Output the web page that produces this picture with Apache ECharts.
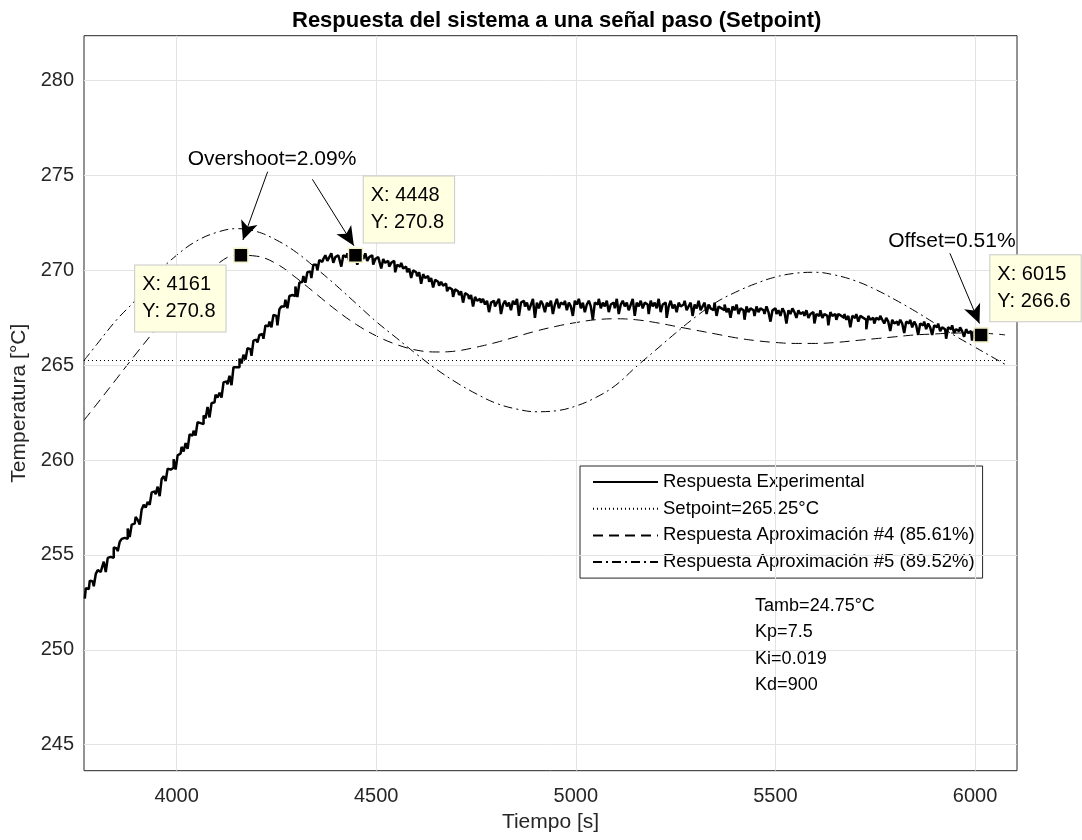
<!DOCTYPE html>
<html>
<head>
<meta charset="utf-8">
<script src="https://cdn.jsdelivr.net/npm/echarts@6/dist/echarts.min.js"></script>
<style>
  html, body { margin: 0; padding: 0; background: #ffffff; }
  #chart { width: 1082px; height: 840px; }
</style>
</head>
<body>
<div id="chart"></div>
<script>
const FONT = '"Liberation Sans", Arial, Helvetica, sans-serif';

// Experimental response: first sample time and sampling period [s]
const expStart = 3770;
const expStep = 5;
// Measured temperature [°C], one value per sample (20 samples per row = 100 s)
const expTemp = [
  252.7, 253.25, 253.2, 253.65, 253.6, 253.35, 254.0, 254.2, 254.1, 254.3, 254.65, 254.1, 254.85, 254.9, 254.85, 255.4, 255.35, 255.2, 255.7, 255.85,
  255.9, 255.85, 256.4, 255.95, 256.6, 256.65, 257.0, 256.85, 256.6, 257.4, 257.65, 257.5, 257.8, 257.65, 258.3, 258.35, 258.2, 258.6, 258.1, 259.0,
  259.15, 258.9, 259.55, 259.5, 259.6, 260.05, 259.5, 260.25, 260.35, 260.7, 260.45, 260.9, 260.6, 261.35, 261.3, 261.55, 261.3, 262.0, 261.95, 261.9,
  262.35, 262.2, 262.8, 262.25, 263.0, 263.05, 263.45, 263.3, 263.55, 263.3, 264.1, 264.15, 264.0, 264.45, 263.95, 264.9, 264.9, 264.9, 265.35, 265.1,
  265.55, 265.3, 265.9, 265.85, 265.5, 266.3, 266.35, 266.2, 266.6, 266.65, 266.4, 267.1, 267.05, 267.3, 267.0, 267.65, 267.6, 267.1, 267.95, 268.1,
  268.1, 268.45, 268.0, 268.65, 268.7, 268.65, 269.15, 268.6, 269.35, 269.4, 269.7, 269.35, 269.9, 269.95, 269.6, 270.3, 270.3, 270.0, 270.55, 270.45,
  270.6, 270.8, 270.5, 270.7, 270.9, 270.4, 270.7, 270.8, 270.6, 270.2, 270.8, 270.7, 270.9, 270.5, 270.8, 270.6, 270.9, 270.3, 270.7, 270.8,
  270.6, 270.9, 270.5, 270.7, 270.8, 270.3, 270.6, 270.7, 270.5, 270.1, 270.6, 270.4, 270.5, 270.2, 270.4, 270.5, 269.9, 270.3, 270.2, 270.4,
  270.1, 270.2, 269.9, 270.1, 269.6, 270.0, 269.9, 269.7, 269.9, 269.3, 269.8, 269.6, 269.7, 269.4, 269.6, 269.1, 269.5, 269.4, 269.2, 269.4,
  269.2, 269.3, 268.9, 269.1, 269.0, 268.6, 269.0, 268.9, 268.7, 268.9, 268.3, 268.8, 268.7, 268.5, 268.7, 268.1, 268.6, 268.4, 268.5, 268.3,
  268.5, 268.2, 268.4, 267.8, 268.3, 268.4, 268.1, 268.3, 268.5, 267.7, 268.2, 268.4, 268.1, 268.3, 267.9, 268.4, 268.2, 268.5, 267.6, 268.3,
  268.4, 268.1, 268.3, 267.9, 268.2, 268.5, 267.5, 268.3, 268.0, 268.4, 268.2, 267.8, 268.3, 268.1, 268.4, 267.7, 268.2, 268.5, 268.0, 268.3,
  268.2, 268.4, 267.9, 268.3, 268.1, 267.6, 268.4, 268.2, 268.5, 268.0, 268.3, 267.8, 268.2, 268.4, 268.1, 267.4, 268.3, 268.2, 268.5, 268.0,
  268.3, 268.1, 268.4, 267.8, 268.2, 268.3, 268.0, 268.5, 267.7, 268.2, 268.4, 268.1, 268.3, 267.9, 268.2, 268.5, 267.6, 268.3, 268.1, 268.4,
  268.0, 268.3, 268.2, 267.7, 268.4, 268.1, 268.3, 268.0, 268.5, 267.8, 268.2, 268.3, 267.5, 268.1, 268.4, 268.0, 268.2, 267.8, 268.3, 268.1,
  268.2, 268.4, 267.9, 268.1, 268.3, 267.6, 268.2, 268.0, 268.4, 267.9, 268.1, 268.3, 267.7, 268.2, 268.0, 267.9, 268.3, 267.6, 268.1, 268.0,
  267.9, 268.2, 267.8, 268.0, 267.5, 268.1, 267.9, 268.2, 267.7, 268.0, 267.9, 267.4, 268.1, 267.8, 268.0, 267.9, 267.6, 268.1, 267.8, 268.0,
  267.9, 267.7, 268.1, 267.8, 267.3, 267.9, 268.0, 267.7, 267.9, 267.6, 268.0, 267.8, 267.2, 267.9, 267.7, 268.0, 267.8, 267.5, 267.9, 267.7,
  267.8, 267.6, 267.9, 267.5, 267.7, 267.8, 267.2, 267.7, 267.6, 267.9, 267.5, 267.7, 267.6, 267.1, 267.8, 267.6, 267.7, 267.4, 267.7, 267.6,
  267.5, 267.7, 267.4, 267.6, 267.0, 267.6, 267.5, 267.7, 267.3, 267.6, 267.5, 267.4, 266.9, 267.6, 267.4, 267.5, 267.2, 267.5, 267.4, 267.6,
  267.4, 267.2, 267.5, 267.3, 266.8, 267.4, 267.2, 267.3, 267.1, 267.4, 267.2, 266.7, 267.3, 267.2, 267.4, 267.0, 267.3, 267.1, 266.6, 267.2,
  267.1, 267.3, 266.9, 267.2, 267.0, 266.6, 267.1, 267.0, 267.2, 266.8, 267.0, 266.9, 266.4, 267.0, 266.9, 267.1, 266.7, 266.9, 266.8, 267.0,
  266.8, 266.5, 266.9, 266.7, 266.8, 266.3, 266.8, 266.7, 266.5, 266.7, 266.6
];

// Setpoint level and the time span it is drawn over
const setpoint = 265.25;
const setpointSpan = [3768, 6075];

// Approximation #4 (85.61%): [time, temperature]
const aprox4 = [
  [3768, 262.1], [3800, 262.95], [3850, 264.3], [3900, 265.65], [3950, 266.95],
  [4000, 268.15], [4050, 269.3], [4100, 270.3], [4150, 270.8], [4200, 270.75],
  [4250, 270.35], [4300, 269.6], [4350, 268.75], [4400, 267.9], [4450, 267.15],
  [4500, 266.55], [4550, 266.1], [4600, 265.8], [4650, 265.7], [4700, 265.75],
  [4750, 265.95], [4800, 266.2], [4850, 266.5], [4900, 266.8], [4950, 267.05],
  [5000, 267.25], [5050, 267.4], [5100, 267.45], [5150, 267.4], [5200, 267.25],
  [5250, 267.05], [5300, 266.85], [5350, 266.65], [5400, 266.45], [5450, 266.3],
  [5500, 266.2], [5550, 266.15], [5600, 266.15], [5650, 266.2], [5700, 266.3],
  [5750, 266.4], [5800, 266.5], [5850, 266.6], [5900, 266.65], [5950, 266.7],
  [6000, 266.7], [6050, 266.65], [6075, 266.6]
];

// Approximation #5 (89.52%): [time, temperature]
const aprox5 = [
  [3768, 265.25], [3800, 266.1], [3850, 267.4], [3900, 268.5], [3950, 269.8],
  [4000, 270.8], [4050, 271.55], [4100, 272.0], [4150, 272.2], [4200, 272.05],
  [4250, 271.6], [4300, 270.95], [4350, 270.1], [4400, 269.2], [4450, 268.25],
  [4500, 267.3], [4550, 266.45], [4600, 265.6], [4650, 264.8], [4700, 264.1],
  [4750, 263.5], [4800, 263.0], [4850, 262.7], [4900, 262.55], [4950, 262.6],
  [5000, 262.85], [5050, 263.3], [5100, 263.95], [5150, 264.9], [5200, 265.8],
  [5250, 266.7], [5300, 267.55], [5350, 268.3], [5400, 268.85], [5450, 269.3],
  [5500, 269.65], [5550, 269.85], [5600, 269.9], [5650, 269.75], [5700, 269.45],
  [5750, 269.0], [5800, 268.45], [5850, 267.85], [5900, 267.2], [5950, 266.55],
  [6000, 265.95], [6050, 265.35], [6075, 265.05]
];

// Axis limits and tick values
const xRange = [3768, 6105];
const yRange = [243.63, 282.37];
const xTicks = [4000, 4500, 5000, 5500, 6000];
const yTicks = [245, 250, 255, 260, 265, 270, 275, 280];

// Data tips: [time, temperature]
const dataTips = [[4161, 270.8], [4448, 270.8], [6015, 266.6]];

// Annotation arrows: [[from], [to]] in data units
const arrows = [
  [[4228, 275.2], [4166, 271.6]],
  [[4340, 274.8], [4444, 271.3]],
  [[5937, 270.9], [6011, 267.2]]
];
// Annotation texts: [time, temperature, text]
const notes = [
  [4239, 275.85, 'Overshoot=2.09%'],
  [5942, 271.55, 'Offset=0.51%']
];

// Controller parameters printed inside the plot
const params = ['Tamb=24.75°C', 'Kp=7.5', 'Ki=0.019', 'Kd=900'];

const names = [
  'Respuesta Experimental',
  'Setpoint=265.25°C',
  'Respuesta Aproximación #4 (85.61%)',
  'Respuesta Aproximación #5 (89.52%)'
];

const expData = expTemp.map((v, i) => [expStart + i * expStep, v]);

const AX = '#262626';
const GRIDC = '#e3e3e3';

const chart = echarts.init(document.getElementById('chart'), null, { renderer: 'canvas' });

const tipOffsets = [[-98, 18], [16, -71], [17, -72]];
const plain = v => String(v);

const option = {
  animation: false,
  backgroundColor: '#ffffff',
  textStyle: { fontFamily: FONT },
  title: {
    text: 'Respuesta del sistema a una señal paso (Setpoint)',
    left: 287,
    top: 5,
    textStyle: { fontFamily: FONT, fontSize: 22, fontWeight: 'bold', color: '#000' }
  },
  grid: {
    left: 84, top: 35.7, width: 933, height: 735,
    show: true, borderColor: AX, borderWidth: 1, backgroundColor: '#fff'
  },
  legend: {
    data: names,
    orient: 'vertical',
    left: 580, top: 466,
    backgroundColor: '#ffffff',
    borderColor: AX, borderWidth: 1, borderRadius: 0,
    padding: [6, 8, 6, 12],
    itemWidth: 65, itemHeight: 14, itemGap: 6.7,
    itemStyle: { opacity: 0 },
    textStyle: { fontFamily: FONT, fontSize: 18.5, color: '#000', lineHeight: 20 },
    selectedMode: false
  },
  xAxis: [{
    type: 'value', min: xRange[0], max: xRange[1],
    name: 'Tiempo [s]', nameLocation: 'middle', nameGap: 41,
    nameTextStyle: { fontFamily: FONT, fontSize: 21, color: AX },
    axisLine: { show: false },
    axisTick: { show: true, inside: true, length: 10, customValues: xTicks, lineStyle: { color: AX } },
    axisLabel: { customValues: xTicks, formatter: plain, fontFamily: FONT, fontSize: 20, color: AX, margin: 16 },
    splitLine: { show: false }
  }, {
    type: 'value', min: xRange[0], max: xRange[1], position: 'top',
    axisLine: { show: false },
    axisTick: { show: true, inside: true, length: 10, customValues: xTicks, lineStyle: { color: AX } },
    axisLabel: { show: false },
    splitLine: { show: false }
  }],
  yAxis: [{
    type: 'value', min: yRange[0], max: yRange[1],
    name: 'Temperatura [°C]', nameLocation: 'middle', nameGap: 40,
    nameTextStyle: { fontFamily: FONT, fontSize: 21, color: AX },
    axisLine: { show: false },
    axisTick: { show: true, inside: true, length: 10, customValues: yTicks, lineStyle: { color: AX } },
    axisLabel: { customValues: yTicks, formatter: plain, fontFamily: FONT, fontSize: 20, color: AX, margin: 10 },
    splitLine: { show: false }
  }, {
    type: 'value', min: yRange[0], max: yRange[1], position: 'right',
    axisLine: { show: false },
    axisTick: { show: true, inside: true, length: 10, customValues: yTicks, lineStyle: { color: AX } },
    axisLabel: { show: false },
    splitLine: { show: false }
  }],
  series: [
    {
      // grid lines at the tick values
      name: 'grid', type: 'line', data: [], silent: true, z: 1,
      markLine: {
        silent: true, symbol: 'none', animation: false,
        label: { show: false },
        lineStyle: { color: GRIDC, width: 1, type: 'solid' },
        data: xTicks.map(v => ({ xAxis: v })).concat(yTicks.map(v => ({ yAxis: v })))
      }
    },
    {
      name: names[0], type: 'line', data: expData, symbol: 'none', step: 'middle', z: 5,
      lineStyle: { color: '#000', width: 2.5 }, itemStyle: { color: '#000' }
    },
    {
      name: names[1], type: 'line', symbol: 'none', z: 4,
      data: [[setpointSpan[0], setpoint], [setpointSpan[1], setpoint]],
      lineStyle: { color: '#000', width: 1, type: [1, 3] }, itemStyle: { color: '#000' }
    },
    {
      name: names[2], type: 'line', data: aprox4, symbol: 'none', smooth: 0.4, z: 4,
      lineStyle: { color: '#000', width: 1, type: [10, 6] }, itemStyle: { color: '#000' }
    },
    {
      name: names[3], type: 'line', data: aprox5, symbol: 'none', smooth: 0.4, z: 4,
      lineStyle: { color: '#000', width: 1, type: [9, 4, 2, 4] }, itemStyle: { color: '#000' }
    },
    {
      // annotation arrows
      name: 'flechas', type: 'line', data: [], silent: true, z: 7,
      markLine: {
        silent: true, animation: false,
        symbol: ['none', 'arrow'], symbolSize: [13, 19],
        label: { show: false },
        lineStyle: { color: '#000', width: 1, type: 'solid' },
        data: arrows.map(a => [{ coord: a[0] }, { coord: a[1] }])
      }
    },
    {
      // data tips
      name: 'datatips', type: 'scatter', z: 8, silent: true,
      symbol: 'rect', symbolSize: 14,
      itemStyle: { color: '#000', opacity: 1, borderColor: '#f4f1c4', borderWidth: 1.5 },
      data: dataTips.map((d, i) => ({
        value: d,
        label: {
          show: true,
          position: tipOffsets[i],
          formatter: 'X: ' + d[0] + '\nY: ' + d[1].toFixed(1),
          fontFamily: FONT, fontSize: 20, lineHeight: 27, color: '#000',
          backgroundColor: '#ffffe1', borderColor: '#c9c9c9', borderWidth: 1,
          padding: [6, 10, 6, 7]
        }
      }))
    }
  ]
};

chart.setOption(option);

// Annotation texts and the parameter block, placed from data coordinates
const graphics = notes.map(n => {
  const p = chart.convertToPixel({ gridIndex: 0 }, [n[0], n[1]]);
  return {
    type: 'text', x: p[0], y: p[1], z: 20,
    style: { text: n[2], fill: '#000', font: '21px ' + FONT, align: 'center', verticalAlign: 'middle' }
  };
});
const pp = chart.convertToPixel({ gridIndex: 0 }, [5449, 253.0]);
graphics.push({
  type: 'text', x: pp[0], y: pp[1], z: 20,
  style: { text: params.join('\n'), fill: '#000', font: '18px ' + FONT, lineHeight: 26.3, align: 'left', verticalAlign: 'top' }
});
chart.setOption({ graphic: graphics });
</script>
</body>
</html>
